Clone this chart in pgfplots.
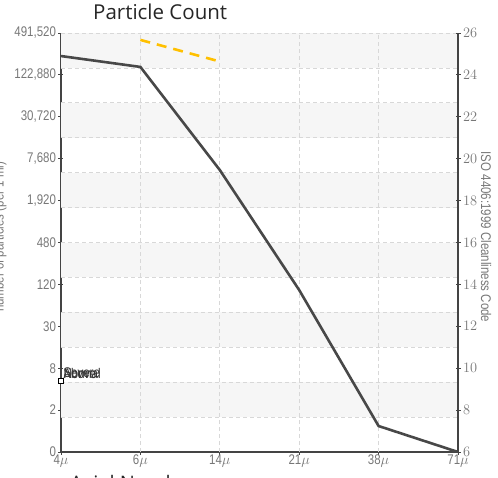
\documentclass[border=0pt]{standalone}
\usepackage{fontspec}
\setmainfont{Liberation Sans}
\newfontfamily\narrow[FakeStretch=0.82]{Liberation Sans}
\newfontfamily\titlefont{Open Sans}
\usepackage{pgfplots}
\pgfplotsset{compat=1.18}
\definecolor{tickgray}{HTML}{777777}
\definecolor{axisdark}{HTML}{444444}
\definecolor{bandgray}{HTML}{F6F6F6}
\definecolor{gridgray}{HTML}{D8D8D8}
\definecolor{lineyellow}{HTML}{FFC000}
\definecolor{seriesdark}{HTML}{484848}

\pgfplotsset{
  chartbase/.style={
    at={(61pt,25pt)}, anchor=south west,
    width=397pt, height=419pt, scale only axis,
    xmin=0, xmax=5, ymin=6, ymax=26,
    ytick={6,8,...,26},
    tick align=center, major tick length=5pt,
    tick style={axisdark, line width=0.8pt},
    axis line style={axisdark, line width=1.2pt},
    tick label style={font=\narrow\fontsize{14}{14}\selectfont, text=tickgray},
    clip=false,
  }
}

\begin{document}
\begin{tikzpicture}[x=1pt,y=1pt]
\path[use as bounding box] (0,0) rectangle (498,477);
\clip (0,0) rectangle (498,477);

\begin{axis}[
  chartbase,
  axis x line*=bottom, axis y line*=left,
  xtick={0,...,5},
  xticklabels={4$\mu$,6$\mu$,14$\mu$,21$\mu$,38$\mu$,71$\mu$},
  xticklabel style={yshift=3pt},
  yticklabels={0,2,8,30,120,480,{1,920},{7,680},{30,720},{122,880},{491,520}},
  yticklabel style={xshift=1pt},
]
% alternating bands
\fill[bandgray] (rel axis cs:0,11/12) rectangle (rel axis cs:1,1);
\fill[bandgray] (rel axis cs:0,9/12) rectangle (rel axis cs:1,10/12);
\fill[bandgray] (rel axis cs:0,7/12) rectangle (rel axis cs:1,8/12);
\fill[bandgray] (rel axis cs:0,5/12) rectangle (rel axis cs:1,6/12);
\fill[bandgray] (rel axis cs:0,3/12) rectangle (rel axis cs:1,4/12);
\fill[bandgray] (rel axis cs:0,1/12) rectangle (rel axis cs:1,2/12);
% dashed grid
\pgfplotsinvokeforeach{1,...,12}{
  \draw[gridgray, line width=0.8pt, dash pattern=on 4pt off 3pt]
    (rel axis cs:0,#1/12) -- (rel axis cs:1,#1/12);
}
\pgfplotsinvokeforeach{1,...,4}{
  \draw[gridgray, line width=0.8pt, dash pattern=on 4pt off 3pt]
    (axis cs:#1,6) -- (axis cs:#1,26);
}

\addplot[seriesdark, line width=2.6pt] coordinates {
  (0,24.90) (1,24.38) (2,19.46) (3,13.73) (4,7.24) (5,6.00)
};
\addplot[lineyellow, line width=2.6pt, dash pattern=on 10pt off 7pt] coordinates {
  (1,25.67) (1.98,24.66)
};
\addplot[only marks, mark=square*, mark size=2.4pt,
  mark options={fill=white, draw=black, line width=0.8pt}] coordinates {(0,9.39)};

\node[anchor=west, inner sep=0, font=\narrow\fontsize{14}{14}\selectfont, text=black!80]
  at (axis cs:0.03,9.77) {Above};
\node[anchor=west, inner sep=0, font=\narrow\fontsize{14}{14}\selectfont, text=black!80]
  at (axis cs:0.03,9.77) {Normal};
\node[anchor=west, inner sep=0, font=\narrow\fontsize{14}{14}\selectfont, text=black!80]
  at (axis cs:0.03,9.77) {Severe};
\end{axis}

\begin{axis}[
  chartbase,
  axis x line=none, axis y line*=right,
  yticklabel style={xshift=-1pt},
]
\end{axis}

\node[anchor=west, inner sep=0, font=\titlefont\fontsize{20.5}{20.5}\selectfont, text=black!85]
  at (93,465) {Particle Count};
\node[anchor=north west, inner sep=0, font=\titlefont\fontsize{20}{20}\selectfont, text=black!85]
  at (70,1.5) {Axial Numbers};
\node[rotate=90, font=\narrow\fontsize{14}{14}\selectfont, text=tickgray]
  at (0,240) {number of particles (per 1 ml)};
\node[rotate=-90, font=\narrow\fontsize{14}{14}\selectfont, text=tickgray]
  at (486,240) {ISO 4406:1999 Cleanliness Code};
\end{tikzpicture}
\end{document}
